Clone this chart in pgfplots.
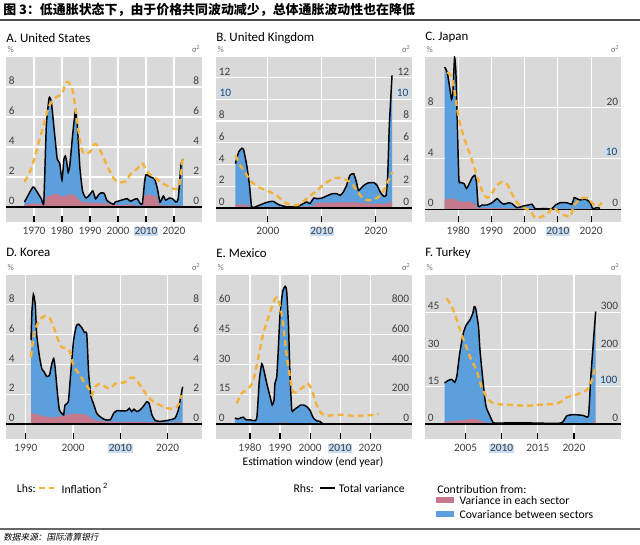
\documentclass[border=0pt]{standalone}
\usepackage{pgfplots}
\pgfplotsset{compat=1.18}
\usepackage{pgfplotstable}
\usepackage{fontspec}
\setmainfont{Carlito}
\newfontfamily\cjk{Noto Sans CJK SC}
\newfontfamily\cjksl{Noto Sans CJK SC}[FakeSlant=0.2]

\definecolor{bgray}{RGB}{217,217,217}
\definecolor{cblue}{RGB}{91,160,220}
\definecolor{cpink}{RGB}{196,122,140}
\definecolor{corange}{RGB}{242,178,60}
\definecolor{hlblue}{RGB}{197,221,245}
\definecolor{tgray}{RGB}{64,64,64}
\newcommand\hl[1]{{\setlength\fboxsep{0.6pt}\colorbox{hlblue}{#1}}}
\newcommand\zeroline{\draw[black,line width=1pt] ({rel axis cs:0,0}|-{axis cs:0,0}) -- ({rel axis cs:1,0}|-{axis cs:0,0});}

\pgfplotsset{
  panel/.style={
    scale only axis, width=147pt,
    /pgf/number format/assume math mode=true,
    axis background/.style={fill=bgray},
    axis line style={draw=none},
    grid=major, major grid style={white, line width=0.9pt},
    xtick pos=left, xtick align=inside, major tick length=4.5pt,
    x tick style={black, line width=0.8pt},
    y tick style={draw=none},
    ytick pos=right, yticklabel pos=right,
    yticklabel style={anchor=south east, inner sep=0pt, xshift=-2pt, yshift=1.5pt},
    tick label style={font=\fontsize{8.5}{9}\selectfont, text=tgray},
  },
  lhs/.style={
    scale only axis, width=147pt,
    /pgf/number format/assume math mode=true,
    hide x axis, axis line style={draw=none},
    y tick style={draw=none},
    ytick pos=left, yticklabel pos=left,
    yticklabel style={anchor=south west, inner sep=0pt, xshift=2pt, yshift=1.5pt},
    tick label style={font=\fontsize{8.5}{9}\selectfont, text=tgray},
  },
  tot/.style={black, line width=1.1pt, smooth, tension=0.3},
  cov/.style={fill=cblue, draw=none, smooth, tension=0.3},
  sec/.style={fill=cpink, draw=none, smooth, tension=0.5},
  inf/.style={corange, line width=1.8pt, dash pattern=on 4.5pt off 3pt, smooth, tension=0.6},
}

% ---------- A. United States
\pgfplotstableread{
year tot
1966.6 0.33
1969.6 1.33
1970.8 1.1
1972.6 0.55
1973.5 0.33
1974.4 5.4
1975.4 7.27
1976.2 7.0
1977.4 4.8
1978.3 3.2
1979.2 2.9
1980.0 1.8
1980.7 3.2
1981.2 3.4
1981.6 3.1
1982.2 2.3
1982.8 2.8
1983.8 4.8
1984.8 6.4
1985.5 5.4
1986.4 2.6
1987.4 1.0
1988.6 0.6
1989.8 0.8
1991.0 1.07
1992.0 0.55
1993.0 0.8
1994.0 0.95
1995.1 0.9
1996.0 0.45
1997.3 0.27
1998.5 0.18
1999.0 0.33
2000.3 0.4
2002.0 0.5
2003.3 0.55
2004.5 0.38
2005.7 0.5
2006.9 0.55
2007.8 0.27
2008.7 0.22
2009.5 1.67
2010.0 2.15
2011.7 2.0
2013.1 1.85
2014.1 1.2
2015.0 0.33
2016.2 0.73
2017.0 0.45
2018.3 0.6
2019.5 0.55
2020.7 0.33
2021.5 0.55
2022.5 2.8
2023.2 3.2
}\Atot
\pgfplotstableread{
year sec
1966.6 0.15
1970 0.25
1973.5 0.2
1974.5 0.7
1976 0.75
1978 0.9
1980 0.7
1982 0.8
1984 0.85
1985.5 0.6
1987 0.35
1990 0.3
1995 0.25
2000 0.15
2005 0.15
2008.7 0.1
2009.5 0.75
2012 0.8
2014 0.6
2015 0.15
2020 0.1
2023.2 0.1
}\Asec
\pgfplotstableread{
year inf
1966.6 1.67
1969 2.55
1971.4 4.1
1973.8 5.7
1975.6 6.8
1978 7.33
1980 7.55
1981.6 8.33
1983.4 8.0
1984.6 6.9
1985.8 5.2
1987 3.9
1988.2 3.55
1990 3.67
1991.8 4.2
1993.6 3.8
1996 2.8
1998.5 1.9
2000.3 1.67
2002.7 1.7
2004.5 2.2
2006.9 2.55
2008.7 2.9
2010.5 2.33
2012.9 2.0
2015.3 1.67
2017.7 1.4
2020.1 1.2
2021.9 1.45
2023.1 3.2
}\Ainf

% ---------- B. United Kingdom
\pgfplotstableread{
year tot
1994.0 4.08
1994.6 5.15
1995.2 5.5
1995.5 5.4
1996.1 3.9
1996.6 2.1
1997.0 0.1
1997.7 0.1
1999.2 0.4
2000.1 0.55
2001.0 0.6
2002.0 0.3
2003.5 0.1
2005.4 0.1
2006.6 0.4
2007.2 0.55
2007.8 0.4
2008.5 0.9
2009.1 0.85
2010.0 0.9
2010.9 1.1
2011.9 1.3
2012.8 1.3
2013.4 1.15
2014.0 1.47
2014.6 2.1
2015.2 3.0
2015.9 3.15
2016.4 2.4
2016.8 1.6
2017.4 1.9
2018.0 2.15
2018.6 2.3
2019.6 2.33
2020.2 2.1
2020.8 1.47
2021.4 1.1
2021.9 1.15
2022.2 3.0
2022.5 7.6
2023.0 12.2
}\Btot
\pgfplotstableread{
year sec
1994 0.3
1996.5 0.3
1997 0.1
2008 0.15
2009 0.45
2016 0.5
2019 0.4
2022 0.4
2023 0.6
}\Bsec
\pgfplotstableread{
year inf
1994.0 4.85
1994.9 3.9
1995.8 3.3
1996.7 2.55
1998.3 1.9
2000.1 1.55
2001.7 1.1
2003.5 0.4
2005.4 0.25
2007.2 0.85
2009.1 1.6
2010.6 2.25
2012.5 2.75
2013.7 2.7
2015.2 2.4
2016.5 1.6
2017.7 0.85
2019.0 0.7
2020.5 1.0
2021.7 1.8
2023.0 3.3
}\Binf

% ---------- C. Japan
\pgfplotstableread{
year tot
1975.9 28.0
1976.7 27.0
1977.5 23.7
1978.0 21.7
1978.4 23.0
1978.9 29.9
1979.3 27.0
1979.7 17.8
1980.2 5.9
1980.7 5.3
1981.7 5.1
1982.5 4.1
1983.2 4.9
1984.2 6.25
1985.0 6.7
1985.5 5.3
1986.0 0.66
1986.7 0.66
1987.2 0.85
1988.7 0.85
1990.2 1.3
1991.7 2.1
1992.7 1.45
1993.7 1.0
1995.2 1.3
1996.2 1.1
1997.7 0.33
1999.7 0.66
2001.2 0.85
2002.2 1.0
2003.2 0.13
2005.7 0.13
2008.2 0.13
2009.2 0.8
2010.7 1.3
2012.7 1.3
2014.2 1.0
2014.9 2.3
2015.7 2.1
2016.7 1.85
2018.2 2.0
2019.2 1.65
2019.7 1.3
2020.5 0.13
2021.7 0.33
2022.7 0.2
}\Ctot
\pgfplotstableread{
year sec
1975.9 2.0
1978 2.0
1979 2.2
1980 1.6
1984 1.45
1985.5 0.7
1986 0.3
1995 0.2
2005 0.1
2022.7 0.1
}\Csec
\pgfplotstableread{
year inf
1976.7 10.8
1977.9 10.5
1978.7 9.6
1979.7 7.9
1980.7 6.6
1982.2 5.3
1983.7 4.2
1985.7 2.6
1987.2 1.45
1988.7 0.92
1990.2 1.3
1991.7 1.9
1993.2 2.15
1994.7 1.97
1996.2 1.2
1997.7 0.53
1999.7 0.13
2001.7 -0.13
2003.2 -0.66
2005.2 -0.58
2007.2 -0.26
2008.7 0.13
2010.7 -0.32
2012.7 -0.53
2013.9 -0.53
2014.7 0.26
2016.2 0.66
2017.7 0.92
2019.2 0.8
2020.7 0.4
2022.2 0.26
2023.2 0.53
}\Cinf

% ---------- D. Korea
\pgfplotstableread{
year tot
1991.1 5.64
1991.3 7.6
1991.6 8.7
1992.0 8.0
1992.3 6.0
1992.9 4.5
1993.4 3.7
1993.9 3.5
1994.4 3.2
1995.0 3.27
1995.5 4.05
1995.9 4.4
1996.2 3.8
1996.7 2.05
1997.1 0.95
1997.6 0.73
1998.0 0.62
1998.3 1.28
1999.0 1.5
1999.5 3.4
2000.1 5.6
2000.7 6.6
2001.2 6.7
2001.9 6.44
2002.4 6.15
2002.9 6.04
2003.3 3.4
2003.8 1.84
2004.3 1.4
2005.0 0.73
2005.7 0.5
2006.8 0.29
2007.9 0.29
2008.6 0.73
2009.3 0.9
2010.3 0.88
2011.4 0.9
2011.9 1.06
2012.4 0.84
2012.9 1.0
2013.5 0.84
2014.2 0.95
2014.9 1.2
2015.6 1.5
2016.1 1.39
2016.7 0.62
2017.4 0.24
2018.4 0.18
2019.5 0.22
2020.6 0.29
2021.6 0.4
2022.3 0.95
2022.8 1.84
2023.2 2.5
}\Dtot
\pgfplotstableread{
year sec
1991.1 0.73
1993 0.6
1995 0.45
1997 0.5
1999 0.65
2001 0.7
2003 0.6
2004 0.35
2006 0.2
2010 0.15
2015 0.15
2020 0.1
2023.2 0.15
}\Dsec
\pgfplotstableread{
year inf
1991.1 4.5
1991.6 5.8
1992.3 6.6
1993.4 7.15
1994.8 7.2
1995.9 6.5
1996.9 5.6
1997.6 5.15
1998.7 5.1
1999.5 4.7
2000.1 3.9
2001.2 3.4
2002.2 2.9
2003.3 2.4
2004.0 1.95
2004.7 2.5
2005.7 2.7
2006.8 2.5
2007.9 2.4
2008.9 2.7
2010.0 2.77
2011.0 2.8
2012.1 3.1
2013.1 3.05
2014.2 2.6
2015.6 1.95
2017.0 1.5
2018.4 1.28
2019.9 1.06
2021.3 1.06
2022.3 1.28
2023.0 1.95
}\Dinf

% ---------- E. Mexico
\pgfplotstableread{
year tot
1975.0 40
1976.1 35
1977.2 44
1977.8 46
1978.7 29
1980.0 29
1982.2 33
1983.1 294
1983.9 404
1984.4 382
1985.6 272
1986.7 183
1987.4 128
1988.0 161
1988.3 272
1988.9 316
1989.4 493
1990.0 736
1990.9 891
1991.7 924
1992.2 895
1992.8 670
1993.3 338
1993.9 95
1994.4 91
1995.3 106
1996.1 117
1996.9 128
1997.8 128
1998.9 117
2000.0 91
2001.1 40
2002.2 22
2003.3 18
2004.4 2
2010.0 1
2015.0 1
2022.8 1
}\Etot
\pgfplotstableread{
year sec
1975 3
1985 3
1989 4
1990.5 10
1991.5 12
1992.5 8
1993.5 3
2004 1
2022.8 1
}\Esec
\pgfplotstableread{
year inf
1975.6 10.4
1977.2 15.4
1979.4 17.9
1981.1 22
1982.8 33.7
1984.4 45.3
1986.1 53.6
1987.8 61
1988.9 63.8
1990.0 59.4
1990.9 51.9
1992.0 37
1993.1 25.4
1994.4 16.3
1996.1 17.1
1997.8 18.7
1999.2 20.4
2000.6 17.1
2002.0 10.4
2003.3 6.3
2005.0 4.3
2007.8 4.5
2011.1 4.6
2014.4 4.1
2017.8 4.3
2021.1 4.6
2022.8 5.1
}\Einf

% ---------- F. Turkey
\pgfplotstableread{
year tot
2002.1 110
2002.6 117
2003.1 120
2003.5 112
2003.8 128
2004.2 190
2004.7 244
2005.1 266
2005.6 279
2006.0 297
2006.2 315
2006.4 311
2006.8 261
2007.0 199
2007.4 119
2007.7 65
2007.9 43
2008.4 21
2008.8 4.5
2009.3 2.7
2012.5 3.6
2014.8 2.7
2017.6 1.8
2018.4 4.5
2019.0 22
2019.7 25
2020.4 25
2021.3 23
2022.0 22
2022.3 119
2022.7 226
2023.0 302
}\Ftot
\pgfplotstableread{
year sec
2002.1 7
2004 9
2006 14
2007 10
2008 3
2009 1
2022 2
2022.5 5
2023 10
}\Fsec
\pgfplotstableread{
year inf
2002.4 50.6
2003.1 47.3
2003.8 41.9
2004.4 36.5
2005.1 31.2
2005.8 25.8
2006.5 21.8
2007.2 15.1
2007.9 11.1
2008.6 8.8
2009.5 8.0
2010.9 7.8
2012.5 7.5
2013.9 7.4
2015.3 7.8
2016.7 8.0
2017.6 8.2
2018.3 9.1
2019.0 10.8
2019.9 11.4
2020.8 12.4
2021.8 13.8
2022.5 17.8
2023.0 23.8
}\Finf

\begin{document}
\begin{tikzpicture}
\path[use as bounding box] (0,0) rectangle (480pt,408.75pt);

% title and rules
\node[anchor=west, inner sep=0pt] at (2.25pt,401.25pt)
  {\cjk\bfseries\fontsize{9.7}{12}\selectfont 图 3：低通胀状态下，由于价格共同波动减少，总体通胀波动性也在降低};
\draw[line width=1.5pt, black!70] (0,394.1pt) -- (480pt,394.1pt);

% ---- A
\begin{axis}[panel, name=pA, at={(4.5pt,242.25pt)}, anchor=south west, height=123.75pt,
  xmin=1960, xmax=2030, ymin=-1, ymax=10,
  xtick={1970,1980,1990,2000,2010,2020}, xticklabels={1970,1980,1990,2000,{\hl{2010}},2020},
  ytick={0,2,4,6,8}]
\addplot[cov] table[x=year,y=tot]{\Atot} \closedcycle;
\addplot[sec] table[x=year,y=sec]{\Asec} \closedcycle;
\addplot[tot] table[x=year,y=tot]{\Atot};
\zeroline
\end{axis}
\begin{axis}[lhs, at={(4.5pt,242.25pt)}, anchor=south west, height=123.75pt,
  xmin=1960, xmax=2030, ymin=-1, ymax=10, ytick={0,2,4,6,8}]
\addplot[inf] table[x=year,y=inf]{\Ainf};
\end{axis}

% ---- B
\begin{axis}[panel, name=pB, at={(162pt,242.25pt)}, anchor=south west, height=123.75pt,
  xmin=1990.4, xmax=2026.7, ymin=-1.3, ymax=13.9,
  xtick={2000,2010,2020}, xticklabels={2000,{\hl{2010}},2020},
  ytick={0,2,4,6,8,10,12}, yticklabels={0,2,4,6,8,{\hl{10}},12}]
\addplot[cov] table[x=year,y=tot]{\Btot} \closedcycle;
\addplot[sec] table[x=year,y=sec]{\Bsec} \closedcycle;
\addplot[tot] table[x=year,y=tot]{\Btot};
\zeroline
\end{axis}
\begin{axis}[lhs, at={(162pt,242.25pt)}, anchor=south west, height=123.75pt,
  xmin=1990.4, xmax=2026.7, ymin=-1.3, ymax=13.9,
  ytick={0,2,4,6,8,10,12}, yticklabels={0,2,4,6,8,{\hl{10}},12}]
\addplot[inf] table[x=year,y=inf]{\Binf};
\end{axis}

% ---- C
\begin{axis}[panel, name=pC, at={(318.75pt,242.25pt)}, anchor=south west, height=123.75pt,
  xmin=1970, xmax=2029, ymin=-2.5, ymax=30,
  xtick={1980,1990,2000,2010,2020}, xticklabels={1980,1990,2000,{\hl{2010}},2020},
  ytick={0,10,20}, yticklabels={0,{\hl{10}},20}]
\addplot[cov] table[x=year,y=tot]{\Ctot} \closedcycle;
\addplot[sec] table[x=year,y=sec]{\Csec} \closedcycle;
\addplot[tot] table[x=year,y=tot]{\Ctot};
\zeroline
\end{axis}
\begin{axis}[lhs, at={(318.75pt,242.25pt)}, anchor=south west, height=123.75pt,
  xmin=1970, xmax=2029, ymin=-1, ymax=12, ytick={0,4,8}]
\addplot[inf] table[x=year,y=inf]{\Cinf};
\end{axis}

% ---- D
\begin{axis}[panel, name=pD, at={(4.5pt,79.5pt)}, anchor=south west, height=123pt,
  xmin=1985.8, xmax=2027.3, ymin=-1, ymax=10,
  xtick={1990,2000,2010,2020}, xticklabels={1990,2000,{\hl{2010}},2020},
  ytick={0,2,4,6,8}]
\addplot[cov] table[x=year,y=tot]{\Dtot} \closedcycle;
\addplot[sec] table[x=year,y=sec]{\Dsec} \closedcycle;
\addplot[tot] table[x=year,y=tot]{\Dtot};
\zeroline
\end{axis}
\begin{axis}[lhs, at={(4.5pt,79.5pt)}, anchor=south west, height=123pt,
  xmin=1985.8, xmax=2027.3, ymin=-1, ymax=10, ytick={0,2,4,6,8}]
\addplot[inf] table[x=year,y=inf]{\Dinf};
\end{axis}

% ---- E
\begin{axis}[panel, name=pE, at={(162pt,79.5pt)}, anchor=south west, height=123pt,
  xmin=1968.7, xmax=2033.9, ymin=-100, ymax=1000,
  xtick={1980,1990,2000,2010,2020}, xticklabels={1980,1990,2000,{\hl{2010}},2020},
  ytick={0,200,400,600,800}]
\addplot[cov] table[x=year,y=tot]{\Etot} \closedcycle;
\addplot[sec] table[x=year,y=sec]{\Esec} \closedcycle;
\addplot[tot] table[x=year,y=tot]{\Etot};
\zeroline
\end{axis}
\begin{axis}[lhs, at={(162pt,79.5pt)}, anchor=south west, height=123pt,
  xmin=1968.7, xmax=2033.9, ymin=-7.5, ymax=75, ytick={0,15,30,45,60}]
\addplot[inf] table[x=year,y=inf]{\Einf};
\end{axis}

% ---- F
\begin{axis}[panel, name=pF, at={(318.75pt,79.5pt)}, anchor=south west, height=123pt,
  xmin=1999.4, xmax=2026.5, ymin=-40, ymax=400,
  xtick={2005,2010,2015,2020}, xticklabels={2005,{\hl{2010}},2015,2020},
  ytick={0,100,200,300}, yticklabels={0,{\hl{100}},200,300}]
\addplot[cov] table[x=year,y=tot]{\Ftot} \closedcycle;
\addplot[sec] table[x=year,y=sec]{\Fsec} \closedcycle;
\addplot[tot] table[x=year,y=tot]{\Ftot};
\zeroline
\end{axis}
\begin{axis}[lhs, at={(318.75pt,79.5pt)}, anchor=south west, height=123pt,
  xmin=1999.4, xmax=2026.5, ymin=-6, ymax=60, ytick={0,15,30,45}]
\addplot[inf] table[x=year,y=inf]{\Finf};
\end{axis}

% panel titles and unit labels
\foreach \p/\t in {pA/A. United States, pB/B. United Kingdom, pC/C. Japan}{
  \node[anchor=west, inner sep=0pt, font=\fontsize{9.7}{11}\selectfont] at ([yshift=14.5pt]\p.north west) {\t};
}
\foreach \p/\t in {pD/D. Korea, pE/E. Mexico, pF/F. Turkey}{
  \node[anchor=west, inner sep=0pt, font=\fontsize{9.7}{11}\selectfont] at ([yshift=16.7pt]\p.north west) {\t};
}
\foreach \p in {pA,pB,pC,pD,pE,pF}{
  \node[anchor=south west, inner sep=0pt, text=black!55, font=\fontsize{6.5}{7}\selectfont] at ([xshift=1pt,yshift=3pt]\p.north west) {\%};
  \node[anchor=south east, inner sep=0pt, text=black!55, font=\fontsize{6.5}{7}\selectfont] at ([xshift=-1pt,yshift=3pt]\p.north east) {σ\textsuperscript{2}};
}

\node[font=\fontsize{8.7}{10}\selectfont] at (234.75pt,62.25pt) {Estimation window (end year)};

% legend
\begin{scope}[font=\fontsize{8.8}{10}\selectfont]
\node[anchor=west, inner sep=0pt] at (12.5pt,42.75pt) {Lhs:};
\draw[corange, line width=1.8pt, dash pattern=on 4pt off 3pt] (29.5pt,42.75pt) -- (41.5pt,42.75pt);
\node[anchor=west, inner sep=0pt] at (46pt,42.75pt) {Inflation\,\textsuperscript{2}};
\node[anchor=west, inner sep=0pt] at (220pt,42.75pt) {Rhs:};
\draw[black, line width=1.1pt] (240pt,42.75pt) -- (251pt,42.75pt);
\node[anchor=west, inner sep=0pt] at (254pt,42.75pt) {Total variance};
\node[anchor=west, inner sep=0pt] at (327.75pt,42pt) {Contribution from:};
\fill[cpink] (327pt,31.25pt) rectangle (340.5pt,36pt);
\node[anchor=west, inner sep=0pt] at (344.5pt,33.75pt) {Variance in each sector};
\fill[cblue] (327pt,20.75pt) rectangle (340.5pt,25.5pt);
\node[anchor=west, inner sep=0pt] at (344.5pt,23.25pt) {Covariance between sectors};
\end{scope}

\draw[line width=1pt, black!60] (0,12pt) -- (480pt,12pt);
\node[anchor=west, inner sep=0pt] at (2.25pt,5.5pt) {\cjksl\fontsize{6.5}{7}\selectfont 数据来源：国际清算银行};
\end{tikzpicture}
\end{document}
